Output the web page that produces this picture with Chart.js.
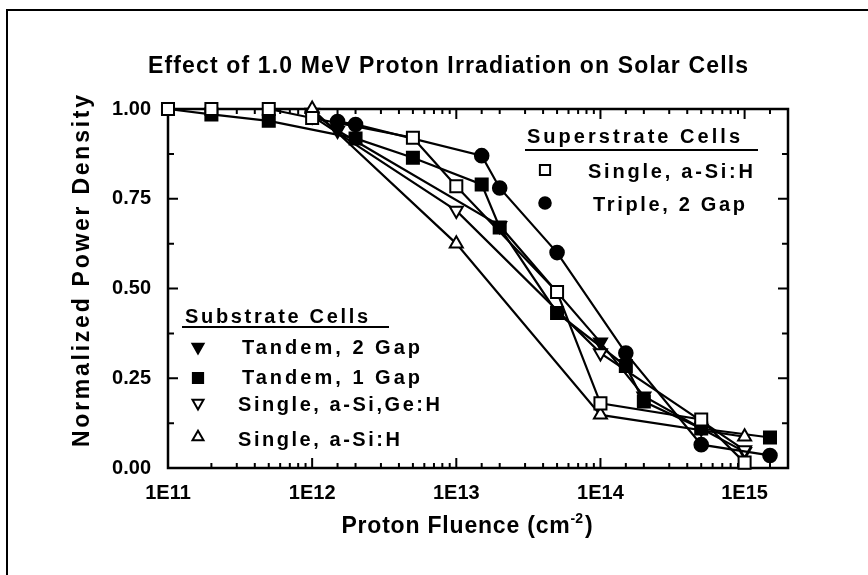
<!DOCTYPE html>
<html>
<head>
<meta charset="utf-8">
<script src="https://cdn.jsdelivr.net/npm/chart.js@4.4.1/dist/chart.umd.min.js"></script>
<style>
  html, body { margin: 0; padding: 0; background: #fff; }
  canvas { display: block; }
</style>
</head>
<body>
<canvas id="chart" width="868" height="575"></canvas>
<script>
// axis ticks
const fluenceTicks = [1e11, 1e12, 1e13, 1e14, 1e15];
const fluenceLabels = ["1E11", "1E12", "1E13", "1E14", "1E15"];
const densityTicks = [0, 0.25, 0.5, 0.75, 1];
const densityLabels = ["0.00", "0.25", "0.50", "0.75", "1.00"];

// superstrate cells
const superSingleX = [1e11, 2e11, 5e11, 1e12, 5e12, 1e13, 5e13, 1e14, 5e14, 1e15];
const superSingleY = [1.00, 1.00, 1.00, 0.975, 0.92, 0.785, 0.49, 0.18, 0.135, 0.015];
const tripleX = [1.5e12, 2e12, 1.5e13, 2e13, 5e13, 1.5e14, 5e14, 1.5e15];
const tripleY = [0.965, 0.957, 0.87, 0.78, 0.60, 0.32, 0.065, 0.035];

// substrate cells
const tandem2X = [1e12, 1.5e12, 2e13, 1e14, 2e14, 5e14, 1e15];
const tandem2Y = [0.99, 0.94, 0.675, 0.35, 0.20, 0.11, 0.045];
const tandem1X = [1e11, 2e11, 5e11, 2e12, 5e12, 1.5e13, 2e13, 5e13, 1.5e14, 2e14, 5e14, 1.5e15];
const tandem1Y = [1.00, 0.985, 0.967, 0.918, 0.864, 0.79, 0.67, 0.432, 0.284, 0.185, 0.11, 0.085];
const singleGeX = [1e12, 1e13, 1e14, 1e15];
const singleGeY = [0.98, 0.717, 0.32, 0.05];
const singleSiX = [1e12, 1e13, 1e14, 1e15];
const singleSiY = [1.00, 0.625, 0.148, 0.087];

const FONT = '"Liberation Sans", Arial, sans-serif';

const pts = (xs, ys) => xs.map((x, i) => ({ x, y: ys[i] }));

function series(label, xs, ys, style, filled, radius, rotation = 0) {
  return {
    label,
    data: pts(xs, ys),
    clip: false,
    borderColor: "#000",
    borderWidth: 2.2,
    tension: 0,
    fill: false,
    pointStyle: style,
    pointRadius: radius,
    pointHoverRadius: radius,
    pointRotation: rotation,
    pointBackgroundColor: filled ? "#000" : "#fff",
    pointBorderColor: "#000",
    pointBorderWidth: 2
  };
}

const datasets = [
  series("Single, a-Si:H", superSingleX, superSingleY, "rect", false, 8.5),
  series("Triple, 2 Gap", tripleX, tripleY, "circle", true, 6.8),
  series("Single, a-Si,Ge:H", singleGeX, singleGeY, "triangle", false, 7.5, 180),
  series("Single, a-Si:H", singleSiX, singleSiY, "triangle", false, 7.5),
  series("Tandem, 2 Gap", tandem2X, tandem2Y, "triangle", true, 7.5, 180),
  series("Tandem, 1 Gap", tandem1X, tandem1Y, "rect", true, 8.5)
];

const legendGroups = [
  { title: "Superstrate Cells", x: 527, y: 137, w: 213, line: [525, 758, 150],
    items: [
      { ds: 0, mx: 545, my: 170, tx: 588, ty: 172, tw: 165 },
      { ds: 1, mx: 545, my: 203, tx: 593, ty: 205, tw: 152 }
    ] },
  { title: "Substrate Cells", x: 185, y: 317, w: 183, line: [182, 389, 327],
    items: [
      { ds: 4, mx: 198, my: 347, tx: 242, ty: 348, tw: 178 },
      { ds: 5, mx: 198, my: 378, tx: 242, ty: 378, tw: 178 },
      { ds: 2, mx: 198, my: 403, tx: 238, ty: 405, tw: 202 },
      { ds: 3, mx: 198, my: 437, tx: 238, ty: 440, tw: 162 }
    ] }
];

function spaced(ctx, text, left, y, width) {
  ctx.letterSpacing = "0px";
  const w = ctx.measureText(text).width;
  const s = text.length > 1 ? (width - w) / (text.length - 1) : 0;
  ctx.letterSpacing = s + "px";
  ctx.textAlign = "left";
  ctx.textBaseline = "middle";
  ctx.fillText(text, left, y);
  ctx.letterSpacing = "0px";
}

const framePlugin = {
  id: "frame",
  beforeDraw(chart) {
    const ctx = chart.ctx;
    ctx.save();
    ctx.strokeStyle = "#000";
    ctx.lineWidth = 2;
    ctx.beginPath();
    ctx.moveTo(7, 575);
    ctx.lineTo(7, 10);
    ctx.lineTo(868, 10);
    ctx.stroke();
    ctx.restore();
  },
  beforeDatasetsDraw(chart) {
    const { ctx, chartArea: a, scales } = chart;
    ctx.save();
    ctx.strokeStyle = "#000";
    ctx.lineWidth = 2;
    ctx.beginPath();
    scales.x.ticks.forEach(t => {
      const px = scales.x.getPixelForValue(t.value);
      if (px <= a.left + 1 || px >= a.right - 1) return;
      const major = fluenceTicks.some(v => Math.abs(Math.log10(v) - Math.log10(t.value)) < 1e-6);
      const len = major ? 10 : 5;
      ctx.moveTo(px, a.bottom); ctx.lineTo(px, a.bottom - len);
      ctx.moveTo(px, a.top); ctx.lineTo(px, a.top + len);
    });
    scales.y.ticks.forEach(t => {
      const py = scales.y.getPixelForValue(t.value);
      if (py <= a.top + 1 || py >= a.bottom - 1) return;
      const major = densityTicks.some(v => Math.abs(v - t.value) < 1e-6);
      const len = major ? 10 : 6;
      ctx.moveTo(a.left, py); ctx.lineTo(a.left + len, py);
      ctx.moveTo(a.right, py); ctx.lineTo(a.right - len, py);
    });
    ctx.stroke();
    ctx.lineWidth = 2.5;
    ctx.strokeRect(a.left, a.top, a.right - a.left, a.bottom - a.top);
    ctx.restore();
  },
  afterDraw(chart) {
    const ctx = chart.ctx;
    ctx.save();
    ctx.fillStyle = "#000";

    ctx.font = "bold 23px " + FONT;
    spaced(ctx, "Effect of 1.0 MeV Proton Irradiation on Solar Cells", 148, 67, 600);

    ctx.save();
    ctx.translate(83, 271);
    ctx.rotate(-Math.PI / 2);
    ctx.font = "bold 23px " + FONT;
    spaced(ctx, "Normalized Power Density", -176, 0, 352);
    ctx.restore();

    // x axis title with superscript
    const main = "Proton Fluence (cm";
    const sup = "-2";
    const sp = 0.8;
    ctx.font = "bold 23px " + FONT;
    const wMain = ctx.measureText(main).width + sp * main.length;
    const wClose = ctx.measureText(")").width;
    ctx.font = "bold 14px " + FONT;
    const wSup = ctx.measureText(sup).width + 2;
    let x = 467 - (wMain + wSup + wClose) / 2;
    ctx.textAlign = "left";
    ctx.textBaseline = "middle";
    ctx.font = "bold 23px " + FONT;
    ctx.letterSpacing = sp + "px";
    ctx.fillText(main, x, 527);
    ctx.letterSpacing = "0px";
    x += wMain;
    ctx.font = "bold 14px " + FONT;
    ctx.fillText(sup, x, 519);
    x += wSup;
    ctx.font = "bold 23px " + FONT;
    ctx.fillText(")", x, 527);

    // legends
    legendGroups.forEach(g => {
      ctx.font = "bold 20px " + FONT;
      spaced(ctx, g.title, g.x, g.y, g.w);
      ctx.lineWidth = 2;
      ctx.strokeStyle = "#000";
      ctx.beginPath();
      ctx.moveTo(g.line[0], g.line[2]);
      ctx.lineTo(g.line[1], g.line[2]);
      ctx.stroke();
      g.items.forEach(it => {
        const ds = chart.data.datasets[it.ds];
        ctx.fillStyle = ds.pointBackgroundColor;
        ctx.strokeStyle = "#000";
        ctx.lineWidth = 2;
        Chart.helpers.drawPoint(ctx, {
          pointStyle: ds.pointStyle,
          rotation: ds.pointRotation,
          radius: ds.pointRadius * 0.85,
          borderWidth: 2
        }, it.mx, it.my);
        ctx.fillStyle = "#000";
        ctx.font = "bold 20px " + FONT;
        spaced(ctx, ds.label, it.tx, it.ty, it.tw);
      });
    });
    ctx.restore();
  }
};

new Chart(document.getElementById("chart"), {
  type: "line",
  data: { datasets },
  options: {
    responsive: false,
    animation: false,
    devicePixelRatio: 1,
    layout: { padding: { left: 0, right: 80, top: 109, bottom: 47 } },
    plugins: { legend: { display: false }, tooltip: { enabled: false } },
    scales: {
      x: {
        type: "logarithmic",
        min: 1e11,
        max: 2e15,
        grid: { display: false, drawTicks: false },
        border: { display: false },
        afterFit: s => { s.height = 60; },
        ticks: {
          autoSkip: false,
          maxRotation: 0,
          padding: 13,
          color: "#000",
          font: { family: FONT, size: 20, weight: "bold" },
          callback: value => {
            const i = fluenceTicks.findIndex(v => Math.abs(Math.log10(v) - Math.log10(value)) < 1e-6);
            return i >= 0 ? fluenceLabels[i] : "";
          }
        }
      },
      y: {
        min: 0,
        max: 1,
        grid: { display: false, drawTicks: false },
        border: { display: false },
        afterFit: s => { s.width = 168; },
        ticks: {
          stepSize: 0.125,
          autoSkip: false,
          padding: 17,
          color: "#000",
          font: { family: FONT, size: 20, weight: "bold" },
          callback: value => {
            const i = densityTicks.findIndex(v => Math.abs(v - value) < 1e-6);
            return i >= 0 ? densityLabels[i] : "";
          }
        }
      }
    }
  },
  plugins: [framePlugin]
});
</script>
</body>
</html>
